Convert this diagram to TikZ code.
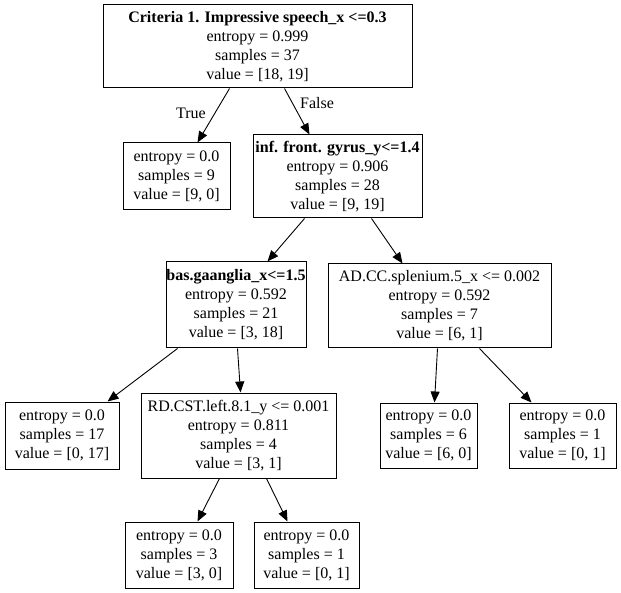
\documentclass[tikz,border=0pt]{standalone}
\usepackage{fontspec}
\setmainfont{Liberation Serif}
\usetikzlibrary{arrows.meta,calc}
\tikzset{
  treenode/.style={draw=black, line width=1pt, inner sep=0pt, align=center,
    font=\fontsize{16}{19}\selectfont},
  edge/.style={draw=black, line width=0.9pt, -{Triangle[length=11pt,width=9pt]}},
  elabel/.style={font=\fontsize{16}{19}\selectfont}
}
\begin{document}
\begin{tikzpicture}[x=1pt, y={(0pt,-1pt)}]
\useasboundingbox[fill=white] (0,0) rectangle (621,593);
\node[treenode, minimum width=309pt, minimum height=83pt] (root) at (257.5,46.5)
  {\textbf{Criteria 1. Impressive speech\_x <=0.3}\\entropy = 0.999\\samples = 37\\value = [18, 19]};
\node[treenode, minimum width=107pt, minimum height=67pt] (leafA) at (176.5,176.5)
  {entropy = 0.0\\samples = 9\\value = [9, 0]};
\node[treenode, minimum width=169pt, minimum height=83pt] (ifg) at (337.5,176.5)
  {\textbf{inf. front. gyrus\_y<=1.4}\\entropy = 0.906\\samples = 28\\value = [9, 19]};
\node[treenode, minimum width=140pt, minimum height=86pt] (bas) at (236,305)
  {\textbf{bas.gaanglia\_x<=1.5}\\entropy = 0.592\\samples = 21\\value = [3, 18]};
\node[treenode, minimum width=223pt, minimum height=84pt] (adcc) at (439.5,306)
  {AD.CC.splenium.5\_x <= 0.002\\entropy = 0.592\\samples = 7\\value = [6, 1]};
\node[treenode, minimum width=114pt, minimum height=67pt] (leafB) at (62,435.5)
  {entropy = 0.0\\samples = 17\\value = [0, 17]};
\node[treenode, minimum width=195pt, minimum height=85pt] (rdcst) at (238.5,435.5)
  {RD.CST.left.8.1\_y <= 0.001\\entropy = 0.811\\samples = 4\\value = [3, 1]};
\node[treenode, minimum width=97pt, minimum height=65pt] (leafC) at (428.5,435.5)
  {entropy = 0.0\\samples = 6\\value = [6, 0]};
\node[treenode, minimum width=107pt, minimum height=65pt] (leafD) at (562.5,435.5)
  {entropy = 0.0\\samples = 1\\value = [0, 1]};
\node[treenode, minimum width=108pt, minimum height=66pt] (leafE) at (179,555)
  {entropy = 0.0\\samples = 3\\value = [3, 0]};
\node[treenode, minimum width=105pt, minimum height=66pt] (leafF) at (306.5,555)
  {entropy = 0.0\\samples = 1\\value = [0, 1]};

\draw[edge] ($(root.south west)+(127,0)$) -- ($(leafA.north west)+(75,0)$);
\draw[edge] ($(root.south west)+(182,0)$) -- ($(ifg.north west)+(57,0)$);
\draw[edge] ($(ifg.south west)+(52,0)$) -- ($(bas.north west)+(102,0)$);
\draw[edge] ($(ifg.south west)+(119,0)$) -- ($(adcc.north west)+(75,0)$);
\draw[edge] ($(bas.south west)+(12,0)$) -- ($(leafB.north west)+(103,0)$);
\draw[edge] ($(bas.south west)+(72,0)$) -- ($(rdcst.north west)+(100,0)$);
\draw[edge] ($(adcc.south west)+(110,0)$) -- ($(leafC.north west)+(55,0)$);
\draw[edge] ($(adcc.south west)+(152,0)$) -- ($(leafD.north west)+(23,0)$);
\draw[edge] ($(rdcst.south west)+(79,0)$) -- ($(leafE.north west)+(73,0)$);
\draw[edge] ($(rdcst.south west)+(126,0)$) -- ($(leafF.north west)+(34,0)$);

\node[elabel] (ltrue) at (191,113) {True};
\node[elabel] (lfalse) at (317,103) {False};
\end{tikzpicture}
\end{document}
